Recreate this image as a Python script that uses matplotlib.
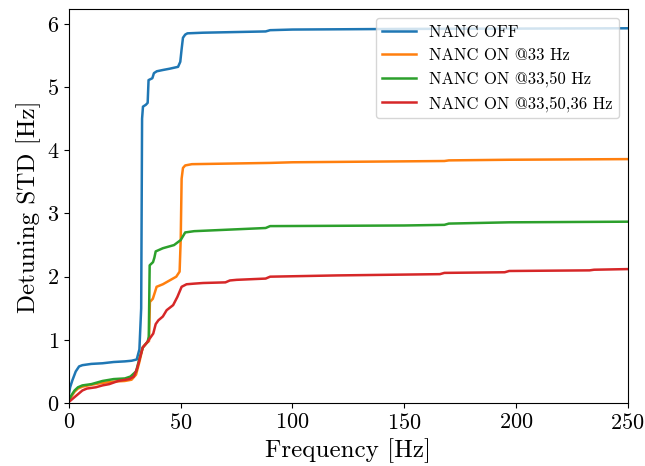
import matplotlib
matplotlib.use("Agg")
import matplotlib.pyplot as plt

plt.rcParams['font.family'] = ['cmr10', 'DejaVu Serif']
plt.rcParams['mathtext.fontset'] = 'cm'
plt.rcParams['axes.unicode_minus'] = False
plt.rcParams['axes.formatter.use_mathtext'] = True

labels = ["NANC OFF", "NANC ON @33 Hz", "NANC ON @33,50 Hz", "NANC ON @33,50,36 Hz"]
colors = ["#1f77b4", "#ff7f0e", "#2ca02c", "#d62728"]

f_off = [0, 0.5, 1.5, 3, 4.5, 6, 10, 15, 20, 25, 28, 30.3, 31.5, 32.3, 32.7, 33.1, 34.4, 35.2,
         35.6, 37.3, 38, 39.3, 42, 45, 48.8, 49.8, 50.4, 51, 52, 53, 60, 88, 90, 100, 150, 250]
v_off = [0.15, 0.25, 0.36, 0.5, 0.58, 0.6, 0.62, 0.63, 0.65, 0.66, 0.67, 0.69, 0.85, 1.5, 4.5, 4.69, 4.72, 4.75,
         5.11, 5.14, 5.22, 5.25, 5.27, 5.29, 5.32, 5.4, 5.6, 5.78, 5.83, 5.85, 5.86, 5.88, 5.9, 5.91, 5.92, 5.93]

f_33 = [0, 1, 2.5, 4, 6, 10, 15, 20, 25, 28, 30, 31.5, 33, 34.7, 35.8, 36.2, 37.5, 38.5, 39.2, 42, 45, 48,
        49.5, 50, 50.4, 51, 52, 55, 90, 100, 168, 170, 197, 250]
v_33 = [0.03, 0.1, 0.18, 0.23, 0.26, 0.29, 0.32, 0.34, 0.35, 0.37, 0.45, 0.65, 0.88, 0.95, 0.98, 1.6, 1.65, 1.76,
        1.84, 1.88, 1.94, 2.0, 2.08, 2.6, 3.55, 3.72, 3.76, 3.78, 3.8, 3.81, 3.83, 3.84, 3.85, 3.86]

f_3350 = [0, 1, 2.5, 4, 6, 10, 15, 20, 25, 27.5, 30, 31.5, 33, 35.2, 35.7, 36.1, 37.6, 38.2, 38.8, 42, 47,
          50, 51, 52, 56, 88, 90, 150, 168, 170, 197, 250]
v_3350 = [0.05, 0.12, 0.2, 0.25, 0.28, 0.3, 0.35, 0.38, 0.39, 0.42, 0.5, 0.7, 0.88, 0.97, 1.05, 2.18, 2.23, 2.3,
          2.4, 2.45, 2.5, 2.58, 2.64, 2.7, 2.72, 2.77, 2.8, 2.81, 2.82, 2.84, 2.86, 2.87]

f_335036 = [0, 2, 4, 6, 8, 12, 15, 18, 22, 27, 29, 30.5, 32, 33, 34.7, 37.7, 38.8, 40, 42, 43.7, 46.6, 48.5, 50.4,
            52.6, 56, 60, 70, 72, 75, 88, 90, 120, 166, 168, 195, 197, 233, 235, 250]
v_335036 = [0.02, 0.08, 0.14, 0.2, 0.23, 0.25, 0.28, 0.3, 0.35, 0.38, 0.42, 0.55, 0.75, 0.88, 0.95, 1.1, 1.25, 1.31,
            1.37, 1.47, 1.55, 1.68, 1.84, 1.88, 1.89, 1.9, 1.91, 1.94, 1.95, 1.97, 2.0, 2.02, 2.04, 2.06, 2.07,
            2.09, 2.1, 2.11, 2.12]

series = [(f_off, v_off), (f_33, v_33), (f_3350, v_3350), (f_335036, v_335036)]

fig = plt.figure(figsize=(6.45, 4.66), dpi=100)
ax = fig.add_axes([0.107, 0.135, 0.866, 0.845])
for (f, v), lab, c in zip(series, labels, colors):
    ax.plot(f, v, color=c, lw=1.8, label=lab)

ax.set_xlim(0, 250)
ax.set_ylim(0, 6.23)
ax.set_xticks([0, 50, 100, 150, 200, 250])
ax.set_yticks([0, 1, 2, 3, 4, 5, 6])
ax.tick_params(labelsize=16)
ax.set_xlabel("Frequency [Hz]", fontsize=18)
ax.set_ylabel("Detuning STD [Hz]", fontsize=18)
ax.legend(loc='upper right', fontsize=12)

fig.savefig("out.png", dpi=100)
